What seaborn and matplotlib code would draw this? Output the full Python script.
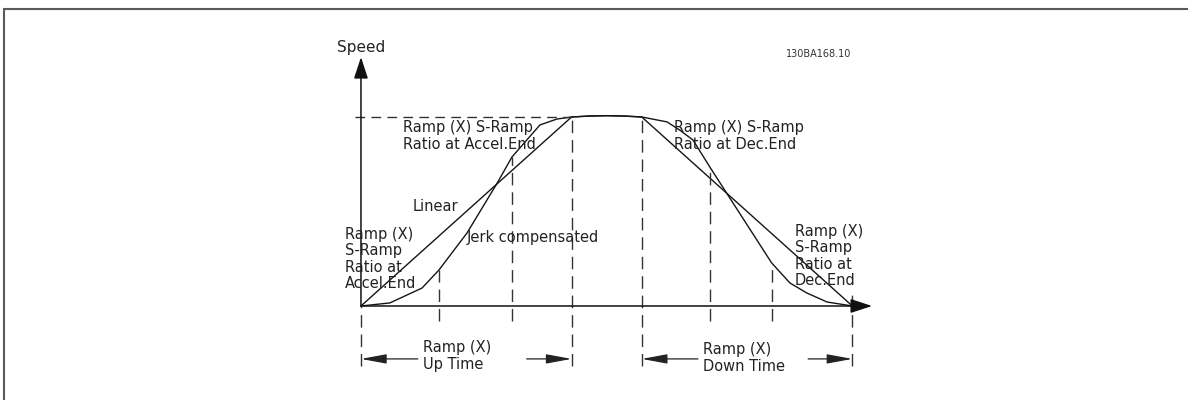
# S-ramp vs linear ramp speed profile

import pandas as pd
import matplotlib.pyplot as plt
import seaborn as sns

# time in s, speed in % of max speed
linear_t = [0.0, 3.0, 3.25, 3.5, 3.75, 4.0, 7.0]
linear_v = [0.0, 100.0, 100.5, 100.7, 100.5, 100.0, 0.0]

jerk_t = [0.0, 0.41, 0.87, 1.11, 1.51, 1.94, 2.15, 2.55, 2.79, 3.0, 3.25, 3.5, 3.75,
          4.0, 4.36, 4.54, 4.73, 4.97, 5.85, 6.11, 6.35, 6.64, 7.0]
jerk_v = [0.0, 1.6, 9.5, 19.0, 38.6, 65.0, 78.8, 95.8, 98.9, 100.0, 100.5, 100.7, 100.5,
          100.0, 97.4, 93.1, 87.8, 73.5, 22.8, 12.2, 6.9, 2.1, 0.0]

# phase boundaries (dashed guides)
guide_t = [0.0, 1.11, 2.15, 3.0, 4.0, 4.97, 5.85, 7.0]
guide_top = [0.0, 19.0, 78.8, 100.0, 100.0, 73.5, 22.8, 7.4]
guide_bottom = [-32.0, -8.0, -8.0, -32.0, -32.0, -8.0, -8.0, -32.0]

ramp_up = (0.0, 3.0)
ramp_down = (4.0, 7.0)
top_speed = 100.0

df = pd.concat([
    pd.DataFrame({'time': linear_t, 'speed': linear_v, 'profile': 'Linear'}),
    pd.DataFrame({'time': jerk_t, 'speed': jerk_v, 'profile': 'Jerk compensated'}),
])

sns.set_theme(style='white')
plt.rcParams['font.family'] = ['DejaVu Sans']
plt.rcParams['lines.scale_dashes'] = False

fig = plt.figure(figsize=(11.88, 4), dpi=100)
ax = fig.add_axes([0, 0, 1, 1])
ax.set_xlim(-5.142, 11.781)
ax.set_ylim(-49.74, 161.9)
ax.axis('off')

sns.lineplot(data=df, x='time', y='speed', hue='profile', units='profile', estimator=None,
             sort=False, palette={'Linear': '#151515', 'Jerk compensated': '#151515'},
             linewidth=1.0, legend=False, ax=ax)

dash = (0, (9, 5))
gray = '#333333'
for t, top, bot in zip(guide_t, guide_top, guide_bottom):
    ax.plot([t, t], [bot, top], color=gray, lw=1.0, ls=dash)
ax.plot([-0.09, ramp_up[1]], [top_speed, top_speed], color=gray, lw=1.0, ls=(0, (7, 4.5)))

# axes with arrow heads
axis_kw = dict(arrowstyle='-|>,head_length=1.1,head_width=0.36', color='#111111', lw=1.1,
               shrinkA=0, shrinkB=0)
ax.annotate('', xy=(7.28, 0), xytext=(0, 0), arrowprops=axis_kw)
ax.annotate('', xy=(0, 131.7), xytext=(0, 0), arrowprops=axis_kw)

# ramp time dimension arrows
dim_kw = dict(arrowstyle='-|>,head_length=1.3,head_width=0.24', color='#222222', lw=0.9,
              shrinkA=0, shrinkB=0)
dim_v = -28.0
for (t0, t1), gap in [(ramp_up, (0.81, 2.36)), (ramp_down, (4.80, 6.37))]:
    ax.annotate('', xy=(t0, dim_v), xytext=(gap[0], dim_v), arrowprops=dim_kw)
    ax.annotate('', xy=(t1, dim_v), xytext=(gap[1], dim_v), arrowprops=dim_kw)

two = dict(fontsize=10.5, color='#222222', linespacing=1.17)
four = dict(fontsize=10.5, color='#222222', linespacing=1.12)
ax.text(0.0, 137, 'Speed', ha='center', va='center', fontsize=11, color='#222222')
ax.text(6.52, 133.3, '130BA168.10', ha='center', va='center', fontsize=7, color='#333333')
ax.text(0.594, 89.9, 'Ramp (X) S-Ramp\nRatio at Accel.End', ha='left', va='center', **two)
ax.text(4.46, 89.9, 'Ramp (X) S-Ramp\nRatio at Dec.End', ha='left', va='center', **two)
ax.text(1.06, 52.4, 'Linear', ha='center', va='center', **two)
ax.text(1.51, 36.0, 'Jerk compensated', ha='left', va='center', **two)
ax.text(-0.228, 24.9, 'Ramp (X)\nS-Ramp\nRatio at\nAccel.End', ha='left', va='center', **four)
ax.text(6.18, 26.5, 'Ramp (X)\nS-Ramp\nRatio at\nDec.End', ha='left', va='center', **four)
ax.text(0.88, -26.7, 'Ramp (X)\nUp Time', ha='left', va='center', **two)
ax.text(4.87, -27.4, 'Ramp (X)\nDown Time', ha='left', va='center', **two)

# frame edges of the original figure box
fig.add_artist(plt.Line2D([3.5 / 1188, 3.5 / 1188], [0, 1 - 9 / 400], transform=fig.transFigure,
                          color='#5a5a5a', lw=1.5))
fig.add_artist(plt.Line2D([3.5 / 1188, 1], [1 - 9 / 400, 1 - 9 / 400], transform=fig.transFigure,
                          color='#5a5a5a', lw=1.5))

fig.savefig('out.png', dpi=100)
